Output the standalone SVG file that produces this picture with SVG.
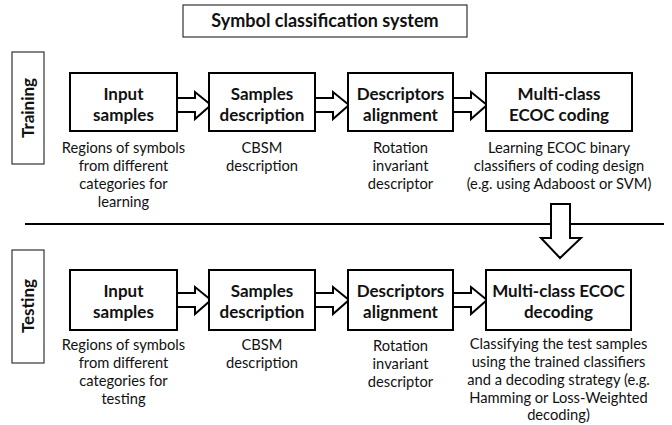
<svg xmlns="http://www.w3.org/2000/svg" width="672" height="425" viewBox="0 0 672 425">
<defs>
<style>
.box{fill:#fff;stroke:#000;stroke-width:2}
.lbl{fill:#fff;stroke:#333;stroke-width:1.2}
.t{font-family:Lato,"Open Sans",sans-serif;font-weight:bold;font-size:17px;text-anchor:middle;fill:#111}
.d{font-family:Lato,"Open Sans",sans-serif;font-size:14.7px;text-anchor:middle;fill:#111}
.arr{fill:#fff;stroke:#000;stroke-width:2;stroke-linejoin:miter}
</style>
</defs>
<rect width="672" height="425" fill="#fff"/>
<g id="title">
<rect x="183" y="5" width="284" height="32" fill="#fff" stroke="#333" stroke-width="1.2"/>
<text class="t" x="325" y="27" style="font-size:18px">Symbol classification system</text>
</g>
<g id="training-label">
<rect class="lbl" x="12" y="52" width="32" height="112"/>
<text class="t" transform="translate(34,108) rotate(-90)">Training</text>
</g>
<g id="testing-label">
<rect class="lbl" x="12" y="250" width="32" height="113"/>
<text class="t" transform="translate(34,306) rotate(-90)">Testing</text>
</g>
<g id="connectors">
<line x1="25" y1="224" x2="664" y2="224" stroke="#000" stroke-width="2"/>
<path class="arr" d="M177,98 H195 V92 L211,105 L195,119 V112 H177"/>
<path class="arr" d="M315,98 H333 V92 L349,105 L333,119 V112 H315"/>
<path class="arr" d="M453,98 H471 V92 L487,105 L471,119 V112 H453"/>
<path class="arr" d="M177,293 H195 V287 L211,300 L195,314 V307 H177"/>
<path class="arr" d="M315,293 H333 V287 L349,300 L333,314 V307 H315"/>
<path class="arr" d="M453,293 H471 V287 L487,300 L471,314 V307 H453"/>
<path class="arr" d="M551,204 H570 V238 H581 L560,258 L541,238 H551 Z"/>
</g>
<g id="train-input">
<rect class="box" x="70" y="73" width="107" height="58"/>
<text class="t" x="123.5" y="100">Input</text>
<text class="t" x="123.5" y="121">samples</text>
<text class="d" x="123.5" y="153">Regions of symbols</text>
<text class="d" x="123.5" y="171">from different</text>
<text class="d" x="123.5" y="189">categories for</text>
<text class="d" x="123.5" y="207">learning</text>
</g>
<g id="train-desc">
<rect class="box" x="209" y="73" width="106" height="58"/>
<text class="t" x="262" y="100">Samples</text>
<text class="t" x="262" y="121">description</text>
<text class="d" x="262" y="153">CBSM</text>
<text class="d" x="262" y="171">description</text>
</g>
<g id="train-align">
<rect class="box" x="348" y="73" width="105" height="58"/>
<text class="t" x="400.5" y="100">Descriptors</text>
<text class="t" x="400.5" y="121">alignment</text>
<text class="d" x="400.5" y="153">Rotation</text>
<text class="d" x="400.5" y="171">invariant</text>
<text class="d" x="400.5" y="189">descriptor</text>
</g>
<g id="train-ecoc">
<rect class="box" x="486" y="73" width="146" height="58"/>
<text class="t" x="559" y="100">Multi-class</text>
<text class="t" x="559" y="121">ECOC coding</text>
<text class="d" x="559" y="153">Learning ECOC binary</text>
<text class="d" x="559" y="171">classifiers of coding design</text>
<text class="d" x="559" y="189">(e.g. using Adaboost or SVM)</text>
</g>
<g id="test-input">
<rect class="box" x="70" y="270" width="107" height="60"/>
<text class="t" x="123.5" y="297">Input</text>
<text class="t" x="123.5" y="318">samples</text>
<text class="d" x="123.5" y="350">Regions of symbols</text>
<text class="d" x="123.5" y="368">from different</text>
<text class="d" x="123.5" y="386">categories for</text>
<text class="d" x="123.5" y="404">testing</text>
</g>
<g id="test-desc">
<rect class="box" x="209" y="270" width="106" height="60"/>
<text class="t" x="262" y="297">Samples</text>
<text class="t" x="262" y="318">description</text>
<text class="d" x="262" y="350">CBSM</text>
<text class="d" x="262" y="368">description</text>
</g>
<g id="test-align">
<rect class="box" x="348" y="270" width="105" height="60"/>
<text class="t" x="400.5" y="297">Descriptors</text>
<text class="t" x="400.5" y="318">alignment</text>
<text class="d" x="400.5" y="351">Rotation</text>
<text class="d" x="400.5" y="369">invariant</text>
<text class="d" x="400.5" y="387">descriptor</text>
</g>
<g id="test-ecoc">
<rect class="box" x="486" y="270" width="145" height="60"/>
<text class="t" x="558.5" y="297">Multi-class ECOC</text>
<text class="t" x="558.5" y="318">decoding</text>
<text class="d" x="558.5" y="349">Classifying the test samples</text>
<text class="d" x="558.5" y="367">using the trained classifiers</text>
<text class="d" x="558.5" y="385">and a decoding strategy (e.g.</text>
<text class="d" x="558.5" y="403">Hamming or Loss-Weighted</text>
<text class="d" x="558.5" y="420">decoding)</text>
</g>
</svg>
